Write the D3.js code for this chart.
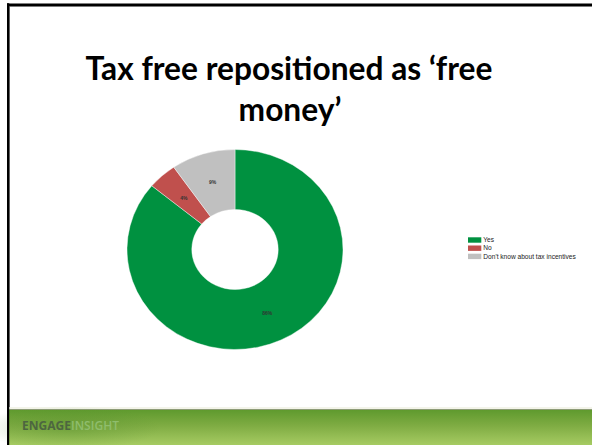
<!DOCTYPE html>
<html>
<head>
<meta charset="utf-8">
<script src="https://cdn.jsdelivr.net/npm/d3@7"></script>
<style>
  html, body { margin: 0; padding: 0; background: #fff; }
  svg { display: block; }
</style>
</head>
<body>
<svg id="chart" width="592" height="445"></svg>
<script>
// ---- data ----
const categories = ["Yes", "No", "Don't know about tax incentives"];
const values = [86.0, 4.4, 9.6];
const valueLabels = ["86%", "4%", "9%"];
const colors = ["#009140", "#c0504d", "#c0c0c0"];
const titleLines = ["Tax free repositioned as \u2018free", "money\u2019"];

const svg = d3.select("#chart");
const W = 592, H = 445;

// frame
svg.append("rect").attr("x", 0).attr("y", 0).attr("width", W).attr("height", H).attr("fill", "#fff");
svg.append("rect").attr("x", 9).attr("y", 6).attr("width", W - 9).attr("height", 1).attr("fill", "#9a9a9a");
svg.append("rect").attr("x", 9).attr("y", 6).attr("width", 1).attr("height", H - 6).attr("fill", "#9a9a9a");
svg.append("rect").attr("x", 7).attr("y", 3.5).attr("width", W - 7).attr("height", 2.7).attr("fill", "#000");
svg.append("rect").attr("x", 7).attr("y", 3.5).attr("width", 2.2).attr("height", H).attr("fill", "#000");

// footer band
const defs = svg.append("defs");
const g1 = defs.append("linearGradient").attr("id", "band").attr("x1", 0).attr("y1", 0).attr("x2", 0).attr("y2", 1);
g1.append("stop").attr("offset", "0%").attr("stop-color", "#5f9a2e");
g1.append("stop").attr("offset", "45%").attr("stop-color", "#7fac43");
g1.append("stop").attr("offset", "100%").attr("stop-color", "#a6cb62");
const g2 = defs.append("radialGradient").attr("id", "swirl").attr("cx", 0.5).attr("cy", 0.5).attr("r", 0.5);
g2.append("stop").attr("offset", "0%").attr("stop-color", "#4f8a2a").attr("stop-opacity", 0.35);
g2.append("stop").attr("offset", "100%").attr("stop-color", "#4f8a2a").attr("stop-opacity", 0);

svg.append("rect").attr("x", 9).attr("y", 407).attr("width", W - 9).attr("height", 2).attr("fill", "#f3f4ea");
svg.append("rect").attr("x", 9).attr("y", 409).attr("width", W - 9).attr("height", 1.2).attr("fill", "#8e9c78");
svg.append("rect").attr("x", 9).attr("y", 410).attr("width", W - 9).attr("height", H - 410).attr("fill", "url(#band)");
svg.append("ellipse").attr("cx", 70).attr("cy", 428).attr("rx", 90).attr("ry", 22).attr("fill", "url(#swirl)");
// redraw left border over band
svg.append("rect").attr("x", 7).attr("y", 3.5).attr("width", 2.2).attr("height", H).attr("fill", "#000");

const logo = svg.append("text").attr("x", 22).attr("y", 430)
  .attr("font-family", "'Open Sans', 'DejaVu Sans', sans-serif")
  .attr("font-weight", 700).attr("font-size", 12.5)
  .attr("textLength", 97).attr("lengthAdjust", "spacingAndGlyphs");
logo.append("tspan").attr("fill", "#4d6640").text("ENGAGE");
logo.append("tspan").attr("fill", "#8fbd6c").attr("font-weight", 600).text("INSIGHT");

// title
const title = svg.append("g").attr("font-family", "Lato, 'Open Sans', sans-serif")
  .attr("font-weight", 700).attr("fill", "#000").attr("text-anchor", "middle");
const t1 = title.append("text").attr("x", 289).attr("y", 80).attr("font-size", 31).text(titleLines[0]);
let len = t1.node().getComputedTextLength();
let fs = 31 * 407 / len;
t1.attr("font-size", fs);
title.append("text").attr("x", 290).attr("y", 121).attr("font-size", fs).text(titleLines[1]);

// donut
const cx = 235, cy = 249.5, sx = 1.08;
const outerR = 100, innerR = 40;
const pie = d3.pie().sort(null).value(d => d)(values);
const arc = d3.arc().innerRadius(innerR).outerRadius(outerR);

const donut = svg.append("g").attr("transform", `translate(${cx},${cy}) scale(${sx},1)`);
donut.selectAll("path").data(pie).join("path")
  .attr("d", arc)
  .attr("fill", (d, i) => colors[i])
  .attr("stroke", "#fff").attr("stroke-width", 0.4);

const labels = svg.append("g").attr("transform", `translate(${cx},${cy})`);
labels.selectAll("text").data(pie).join("text")
  .attr("x", d => arc.centroid(d)[0] * sx)
  .attr("y", d => arc.centroid(d)[1])
  .attr("dy", "0.35em")
  .attr("text-anchor", "middle")
  .attr("font-family", "'Liberation Sans', Arial, sans-serif")
  .attr("font-size", 5)
  .attr("font-weight", 700)
  .attr("fill", "#333")
  .text((d, i) => valueLabels[i]);

// legend
const leg = svg.append("g").attr("transform", "translate(468,237.3)");
const rowH = 8.2;
const items = leg.selectAll("g").data(categories).join("g")
  .attr("transform", (d, i) => `translate(0,${i * rowH})`);
items.append("rect").attr("width", 13.3).attr("height", 5.4).attr("fill", (d, i) => colors[i]);
items.append("text").attr("x", 15.3).attr("y", 4.9)
  .attr("font-family", "'Liberation Sans', Arial, sans-serif")
  .attr("font-size", 6.6).attr("fill", "#222")
  .text(d => d);
</script>
</body>
</html>
